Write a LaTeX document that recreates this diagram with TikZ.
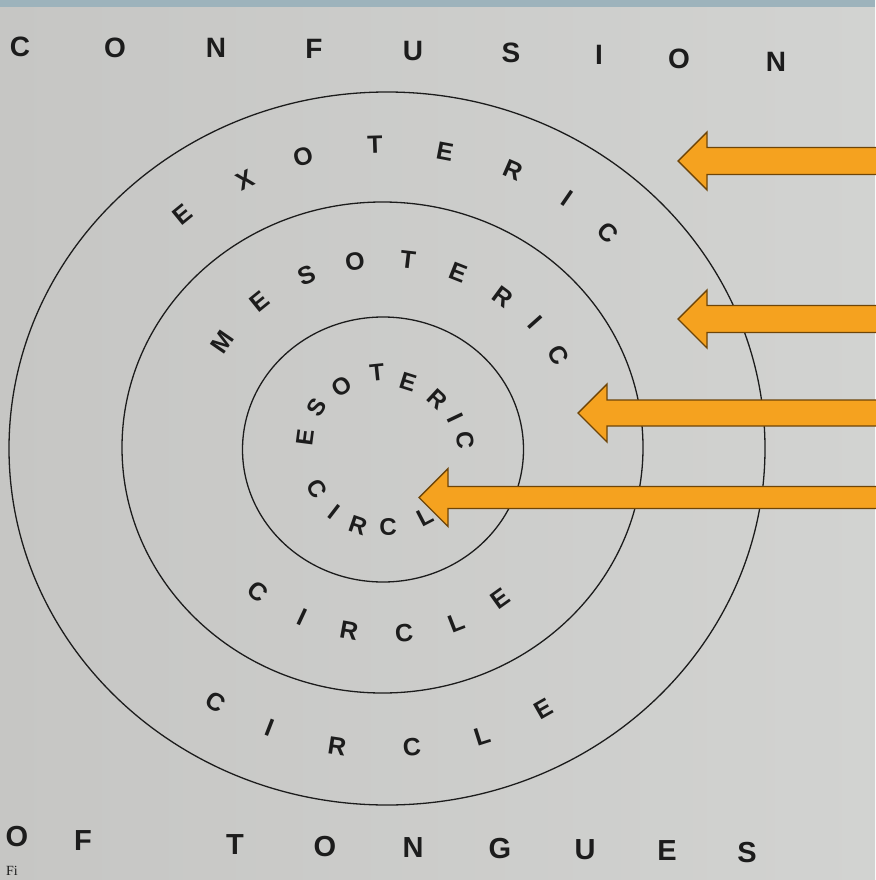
\documentclass[tikz,border=0pt]{standalone}
\usepackage{fontspec}
\setmainfont{Liberation Sans}
\newfontfamily\capfont{Liberation Serif}
\definecolor{paperL}{HTML}{C6C6C4}
\definecolor{paperR}{HTML}{D2D3D1}
\definecolor{band}{HTML}{9DB3BC}
\definecolor{ink}{HTML}{1C1C1C}
\definecolor{arrowfill}{HTML}{F5A21F}
\definecolor{arrowedge}{HTML}{6E4508}
\tikzset{
  ringline/.style={draw=ink, line width=1.3pt},
  ringletter/.style={text=ink, inner sep=0pt, font=\bfseries\fontsize{25}{25}\selectfont},
  innerletter/.style={ringletter, font=\bfseries\fontsize{24}{24}\selectfont},
  titleletter/.style={text=ink, inner sep=0pt, font=\bfseries\fontsize{28}{28}\selectfont},
  bottomletter/.style={text=ink, inner sep=0pt, font=\bfseries\fontsize{29}{29}\selectfont},
  orangearrow/.style={fill=arrowfill, draw=arrowedge, line width=1.4pt, line join=miter}
}
\newcommand{\pointer}[5]{% name, tip x, tip y, shaft half height, head base x
  \coordinate (#1) at (#2,#3);
  \draw[orangearrow] (#1) -- (#5,#3-29) -- (#5,#3-#4) -- (885,#3-#4) -- (885,#3+#4) -- (#5,#3+#4) -- (#5,#3+29) -- cycle;}
\begin{document}
\begin{tikzpicture}[x=1pt,y=-1pt]
\useasboundingbox (0,0) rectangle (875,880);
\shade[left color=paperL, right color=paperR] (0,0) rectangle (875,880);
\fill[band] (0,0) rectangle (875,7);

% title rows
\foreach \ch/\xx/\yy [count=\i] in {C/20/47, O/115/48, N/216/48, F/314/49, U/413/51, S/511/53, I/599/55, O/679/59, N/776/62}
  \node[titleletter] (top\i) at (\xx,\yy) {\ch};
\foreach \ch/\xx/\yy [count=\i] in {O/17/837, F/83/841, T/235/845, O/325/847, N/413/848, G/500/849, U/585/850, E/667/851, S/747/853}
  \node[bottomletter] (bot\i) at (\xx,\yy) {\ch};
\node[anchor=north west, inner sep=0pt, text=ink, font=\capfont\fontsize{14}{14}\selectfont] (fig) at (6,866) {Fi};

% circles
\draw[ringline] (387,448.5) ellipse [x radius=378pt, y radius=356.5pt];
\draw[ringline] (382.5,447.5) ellipse [x radius=260.5pt, y radius=245.5pt];
\draw[ringline] (383,449.5) ellipse [x radius=140.5pt, y radius=132.5pt];

% EXOTERIC
\foreach \ch/\xx/\yy/\rr [count=\i] in {E/183/215/39.3, X/245/180/26.2, O/303/157/14.9, T/375/145/1.8, E/445/152/-10.8, R/513/170/-23.5, I/567/198/-34.5, C/608/233/-44.4}
  \node[ringletter, rotate=\rr] (exo\i) at (\xx,\yy) {\ch};
% MESOTERIC
\foreach \ch/\xx/\yy/\rr [count=\i] in {M/222/342/55.4, E/260/302/38.9, S/307/275/23, O/355/262/8.7, T/408/260/-6.6, E/458/273/-21.5, R/503/297/-36.4, I/535/322/-48.3, C/558/355/-60.3}
  \node[ringletter, rotate=\rr] (meso\i) at (\xx,\yy) {\ch};
% ESOTERIC
\foreach \ch/\xx/\yy/\rr [count=\i] in {E/305/437/82.6, S/317/407/58.2, O/342/386/33.2, T/377/373/5.9, E/408/382/-17.5, R/437/399/-42.8, I/455/418/-64.6, C/465/440/-84}
  \node[innerletter, rotate=\rr] (eso\i) at (\xx,\yy) {\ch};
% inner CIRCL(E)
\foreach \ch/\xx/\yy/\rr [count=\i] in {C/317/489/-59.5, I/334/512/-37.6, R/358/525/-18.9, C/388/527/1.4, L/425/517/27.4}
  \node[innerletter, rotate=\rr] (cin\i) at (\xx,\yy) {\ch};
% middle CIRCLE
\foreach \ch/\xx/\yy/\rr [count=\i] in {C/258/592/-39.8, I/302/617/-24.9, R/349/631/-10.3, C/404/633/5.2, L/457/623/21.2, E/500/599/35.5}
  \node[ringletter, rotate=\rr] (cmid\i) at (\xx,\yy) {\ch};
% outer CIRCLE
\foreach \ch/\xx/\yy/\rr [count=\i] in {C/216/702/-32.3, I/270/728/-21.2, R/337/746/-8.6, C/412/747/4.9, L/482/736/17.6, E/543/709/29.6}
  \node[ringletter, rotate=\rr] (cout\i) at (\xx,\yy) {\ch};

% orange arrows
\pointer{a1}{678}{161}{13.5}{707}
\pointer{a2}{678}{319}{13.5}{707}
\pointer{a3}{578}{413}{13}{607}
\pointer{a4}{419}{497.5}{11}{448}
\end{tikzpicture}
\end{document}
